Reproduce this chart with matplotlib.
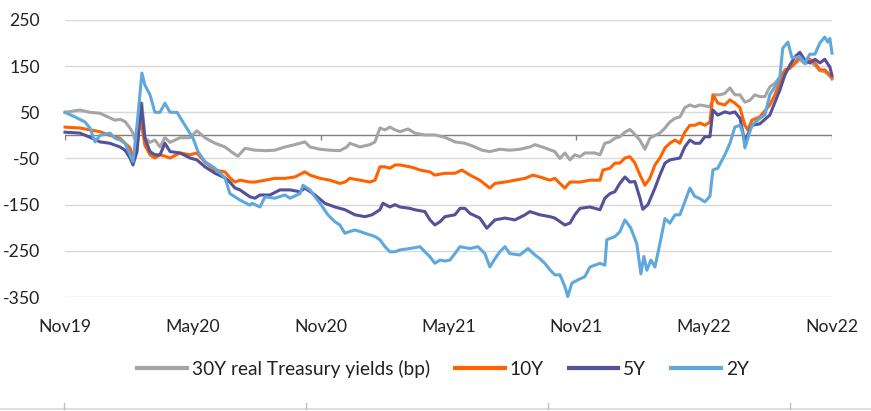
import matplotlib
matplotlib.use("Agg")
import matplotlib.pyplot as plt
from matplotlib.lines import Line2D

plt.rcParams['font.family'] = ['Lato', 'DejaVu Sans']

# x = months since Nov 2019
tick_pos = [0, 6, 12, 18, 24, 30, 36]
tick_labels = ["Nov19", "May20", "Nov20", "May21", "Nov21", "May22", "Nov22"]
y_ticks = [250, 150, 50, -50, -150, -250, -350]

y30_x = [0,0.70,1.17,1.64,2.11,2.35,2.58,2.82,3.05,3.19,3.28,3.45,3.61,3.75,3.99,4.22,4.46,4.69,4.93,5.40,5.87,6.19,6.57,7.04,7.51,7.88,8.12,8.45,8.92,9.39,9.85,10.32,10.79,11.26,11.50,11.97,12.44,12.90,13.23,13.37,13.84,14.31,14.55,14.78,15.02,15.25,15.49,15.72,16.10,16.42,16.89,17.36,17.83,18.30,18.77,19.24,19.57,19.94,20.41,20.88,21.35,21.82,22.06,22.52,22.99,23.23,23.46,23.70,23.93,24.17,24.40,24.87,25.11,25.34,25.58,25.81,26.04,26.28,26.51,26.65,26.84,26.98,27.22,27.45,27.69,27.92,28.16,28.39,28.63,28.86,29.09,29.33,29.56,29.80,30.27,30.50,30.74,30.97,31.21,31.44,31.68,31.91,32.14,32.38,32.61,32.85,33.08,33.32,33.55,33.79,34.02,34.26,34.49,34.73,34.96,35.20,35.43,35.66,35.90,36.0]
y30_v = [50,55,50,48,38,33,35,30,16,5,-10,20,70,-5,-15,-10,-25,-5,-15,-5,-5,10,-5,-17,-25,-38,-45,-28,-32,-33,-32,-25,-20,-14,-25,-30,-32,-33,-25,-17,-25,-20,-14,16,12,18,12,8,14,5,1,1,-4,-14,-17,-25,-32,-35,-30,-32,-30,-25,-20,-27,-35,-50,-38,-53,-42,-46,-38,-38,-42,-17,-14,-6,-3,7,13,7,-3,-10,-30,-6,0,5,16,29,37,40,60,66,62,66,62,88,88,91,103,88,88,72,76,88,84,84,105,113,126,140,145,155,165,155,160,152,140,138,128,122]

y10_x = [0,0.70,1.17,1.64,2.11,2.58,2.82,3.05,3.19,3.38,3.52,3.61,3.75,3.99,4.22,4.46,4.69,4.93,5.40,5.87,6.19,6.57,7.04,7.51,7.74,7.98,8.21,8.68,8.92,9.39,9.85,10.32,10.79,11.26,11.50,11.97,12.44,12.90,13.14,13.37,13.84,14.31,14.55,14.78,15.02,15.25,15.49,15.72,16.19,16.42,16.66,17.13,17.36,17.83,18.30,18.63,19.01,19.47,19.94,20.18,20.65,21.12,21.59,21.96,22.29,22.76,22.99,23.23,23.46,23.70,24.17,24.64,25.11,25.25,25.58,25.81,26.04,26.28,26.51,26.75,26.98,27.22,27.45,27.69,27.92,28.16,28.39,28.63,28.86,29.09,29.33,29.56,29.80,30.03,30.27,30.41,30.64,30.97,31.21,31.44,31.68,31.91,32.05,32.24,32.61,33.08,33.32,33.55,33.79,34.02,34.26,34.49,34.73,34.96,35.20,35.43,35.66,35.90,36.0]
y10_v = [18,16,12,8,0,-6,-17,-27,-49,-27,35,20,-21,-42,-49,-42,-45,-49,-38,-42,-38,-58,-75,-79,-92,-101,-97,-101,-101,-97,-93,-93,-90,-79,-86,-93,-97,-104,-101,-93,-97,-101,-97,-68,-68,-71,-64,-64,-68,-71,-75,-79,-86,-82,-82,-75,-86,-97,-114,-104,-101,-97,-93,-86,-90,-97,-93,-104,-114,-101,-101,-97,-97,-75,-71,-60,-60,-49,-46,-60,-85,-108,-93,-64,-49,-27,-17,-10,-17,7,22,22,27,22,29,88,70,66,77,70,60,22,12,33,40,66,88,115,142,146,157,170,159,165,157,142,142,131,125]

y5_x = [0,0.70,1.17,1.64,2.11,2.58,2.82,3.05,3.19,3.38,3.57,3.75,3.99,4.22,4.46,4.69,4.93,5.40,5.87,6.19,6.57,7.04,7.51,7.74,7.98,8.21,8.68,8.92,9.15,9.62,10.09,10.56,11.03,11.26,11.73,12.20,12.67,13.14,13.61,14.08,14.41,14.78,14.92,15.25,15.49,15.72,16.19,16.42,16.89,17.13,17.36,17.60,17.83,18.30,18.54,18.77,19.01,19.47,19.80,20.18,20.65,21.12,21.59,21.82,22.29,22.76,22.99,23.46,23.70,23.93,24.17,24.64,25.11,25.34,25.58,25.81,26.04,26.28,26.51,26.75,26.98,27.12,27.36,27.69,27.92,28.16,28.39,28.86,29.09,29.33,29.56,29.80,30.03,30.27,30.41,30.64,30.97,31.21,31.44,31.68,31.91,32.05,32.24,32.61,33.08,33.55,33.79,34.02,34.26,34.49,34.73,34.96,35.20,35.43,35.66,35.90,36.0]
y5_v = [7,5,-4,-14,-17,-25,-32,-49,-64,-35,70,-6,-35,-42,-42,-17,-35,-38,-49,-53,-68,-82,-92,-101,-114,-118,-133,-136,-129,-129,-118,-118,-122,-114,-129,-147,-155,-161,-172,-176,-172,-161,-147,-155,-150,-155,-158,-161,-165,-183,-194,-187,-176,-172,-158,-158,-169,-179,-201,-183,-179,-183,-172,-165,-172,-176,-179,-194,-190,-172,-158,-155,-161,-136,-126,-122,-104,-90,-101,-100,-135,-160,-150,-114,-86,-60,-53,-49,-25,-10,-17,-17,-3,-3,55,44,51,48,51,37,-14,2,22,25,44,98,131,152,170,180,163,157,165,157,165,148,130]

y2_x = [0,0.47,0.94,1.17,1.41,1.64,2.11,2.35,2.58,2.82,3.05,3.19,3.38,3.61,3.75,3.99,4.22,4.46,4.69,4.93,5.26,5.63,6.01,6.24,6.57,7.04,7.51,7.74,8.21,8.68,8.78,9.15,9.39,9.85,10.32,10.56,11.03,11.17,11.50,11.73,11.97,12.34,12.67,12.90,13.14,13.37,13.61,13.84,14.08,14.55,14.78,15.02,15.25,15.49,15.72,16.19,16.66,16.89,17.13,17.36,17.60,17.83,18.07,18.30,18.54,19.01,19.38,19.71,19.94,20.18,20.41,20.65,20.88,21.35,21.73,22.06,22.29,22.52,22.76,22.99,23.23,23.46,23.60,23.79,24.07,24.40,24.64,25.11,25.34,25.43,25.81,26.04,26.28,26.55,26.84,27.03,27.17,27.31,27.50,27.69,27.92,28.16,28.39,28.63,28.86,29.09,29.33,29.56,29.80,30.03,30.27,30.41,30.64,30.97,31.21,31.44,31.68,31.82,31.91,32.05,32.24,32.61,32.85,33.08,33.32,33.55,33.69,33.93,34.12,34.49,34.73,34.96,35.20,35.43,35.66,35.80,35.90,36.0]
y2_v = [50,40,29,16,-14,0,5,-6,-10,-17,-42,-57,22,135,109,88,50,50,70,50,50,22,-6,-35,-57,-71,-92,-126,-140,-151,-147,-155,-133,-136,-129,-136,-126,-108,-118,-133,-147,-172,-187,-194,-212,-208,-205,-208,-212,-219,-226,-241,-252,-252,-248,-245,-241,-252,-263,-277,-270,-272,-270,-256,-241,-245,-241,-256,-285,-267,-252,-241,-256,-259,-245,-259,-267,-277,-291,-302,-302,-327,-349,-320,-313,-306,-285,-277,-281,-226,-219,-209,-183,-200,-235,-300,-262,-292,-270,-285,-235,-180,-190,-172,-172,-144,-114,-132,-137,-144,-132,-75,-71,-42,-17,18,22,5,-27,-6,22,37,44,88,105,126,189,202,168,170,157,176,176,200,213,202,210,178]

series = [
    ("30Y real Treasury yields (bp)", y30_x, y30_v, "#A5A5A5"),
    ("10Y", y10_x, y10_v, "#FF6200"),
    ("5Y", y5_x, y5_v, "#525199"),
    ("2Y", y2_x, y2_v, "#5FA8DE"),
]

fig = plt.figure(figsize=(8.71, 4.11), dpi=100)
ax = fig.add_axes([65/871, 1-297/411, (832-65)/871, 277/411])

for yt in y_ticks:
    ax.axhline(yt, color="#D9D9D9", lw=1.0, zorder=0)
ax.axhline(0, color="#7F7F7F", lw=1.0, zorder=1)
ax.vlines([0, 12, 24, 36], -11, 0, color="#7F7F7F", lw=1.0, zorder=1)

for name, xs, vs, c in series:
    ax.plot(xs, vs, color=c, lw=2.2, label=name, zorder=3, clip_on=False,
            solid_joinstyle="round")

ax.set_xlim(0, 36)
ax.set_ylim(-350, 250)
ax.set_yticks(y_ticks)
ax.set_yticklabels([str(v) for v in y_ticks])
ax.set_xticks(tick_pos)
ax.set_xticklabels(tick_labels)
ax.tick_params(axis="y", length=0, pad=18, labelsize=12.7, colors="#222222")
ax.tick_params(axis="x", length=0, pad=16, labelsize=12.7, colors="#222222")
for s in ax.spines.values():
    s.set_visible(False)

leg = fig.legend(loc="center", bbox_to_anchor=(443/871, 1-369/411), ncol=4,
                 frameon=False, fontsize=13.8, handlelength=2.6,
                 handletextpad=0.25, columnspacing=1.3, labelcolor="#222222")
for h in leg.get_lines():
    h.set_linewidth(3)

# bottom decorative axis line
fig.add_artist(Line2D([0, 1], [1-409/411, 1-409/411], color="#D9D9D9", lw=1.2,
                      transform=fig.transFigure))
for px in [64, 306, 548, 790]:
    fig.add_artist(Line2D([px/871, px/871], [1-409/411, 1-403/411],
                          color="#BFBFBF", lw=1.0, transform=fig.transFigure))

fig.savefig("out.png", dpi=100)
